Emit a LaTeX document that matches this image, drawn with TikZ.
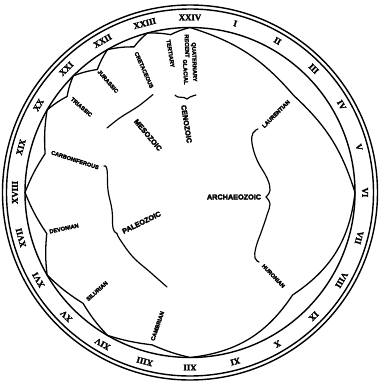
\documentclass[tikz,border=0pt]{standalone}
\usepackage{fontspec}
\newfontfamily\blobfont{Liberation Sans}[UprightFont=* Bold, FakeBold=4]
\newfontfamily\hourfont{Liberation Serif}[UprightFont=* Bold, FakeBold=2]

\begin{document}
\begin{tikzpicture}[x=0.03cm, y=0.03cm,
    hour/.style={font=\fontsize{7.5}{7.5}\selectfont\hourfont, inner sep=0pt},
    period/.style={font=\fontsize{4.8}{4.8}\selectfont\blobfont, inner sep=0pt},
    era/.style={font=\fontsize{6.2}{6.2}\selectfont\blobfont, inner sep=0pt},
    rim/.style={line width=1.2pt},
    bound/.style={line width=1.1pt, line join=round},
    grp/.style={line width=1pt, line cap=round}
]
\useasboundingbox (-190,-191.5) rectangle (189,192.5);

% Cadran
\draw[rim] (0,0) circle (187.5);
\draw[rim] (0,0) circle (183.5);
\draw[rim] (0,0) circle (165);

% Heures
\foreach \h in {1,...,24}
  \node[hour, rotate={-15*\h}] (h\h) at ({90-15*\h}:175)
    {\uppercase\expandafter{\romannumeral\h}};

% Limites des periodes
\draw[bound] (90:165) to[bend left=16] (43:142) to[bend left=15] (0:165)
  to[bend left=25] (-45:145) to[bend left=25] (-90:165)
  to[bend left=5] (-104:157) to[bend left=5] (-120:165)
  to[bend left=6] (-134:154) to[bend left=6] (-150:165)
  to[bend left=6] (-164:149) to[bend left=6] (-180:165)
  to[bend left=6] (-195:150) to[bend left=6] (-210:165)
  to[bend left=6] (142:156) to[bend left=6] (135:165)
  to[bend left=6] (127:154) to[bend left=6] (120:165)
  to[bend left=6] (111:156) to[bend left=6] (105:165)
  to[bend left=6] (97:159) to[bend left=6] (90:165);

% Periodes
\node[period, rotate=45] (laurent) at (86,78.5) {LAURENTIAN};
\node[period, rotate=-46] (huron) at (83.5,-83.5) {HURONIAN};
\node[period, rotate=71] (cambr) at (-32.5,-133.5) {CAMBRIAN};
\node[period, rotate=42] (silur) at (-93,-98.5) {SILURIAN};
\node[period, rotate=12] (devon) at (-126,-36) {DEVONIAN};
\node[period, rotate=-18] (carbon) at (-115,32.5) {CARBONIFEROUS};
\node[period, rotate=-41] (trias) at (-108.5,85.5) {TRIASSIC};
\node[period, rotate=-49] (jura) at (-82,111) {JURASSIC};
\node[period, rotate=-66] (creta) at (-46,122.5) {CRETACEOUS};
\node[period, rotate=-81] (tert) at (-19.5,139) {TERTIARY};
\node[period, rotate=-88] (recent) at (-3,146.5) {RECENT};
\node[period, rotate=-87] (glac) at (-4.5,120.5) {GLACIAL};
\node[period, rotate=-88] (quat) at (4,130.5) {QUATERNARY};

% Eres
\node[era] (archeo) at (44,-4.5) {ARCHAEOZOIC};
\node[era, rotate=26] (paleo) at (-48.5,-30) {PALEOZOIC};
\node[era, rotate=-50] (meso) at (-42,57.5) {MESOZOIC};
\node[era, rotate=-81] (ceno) at (-3.5,68.5) {CENOZOIC};

% Accolades
\draw[grp] plot[smooth, tension=0.7] coordinates {(68,63.5) (63,59.5) (62,49.5) (67,32.5) (77,14.5) (80,2.5) (76,-4.5)};
\draw[grp] plot[smooth, tension=0.7] coordinates {(76,-4.5) (80,-11.5) (77,-22.5) (72,-37.5) (66,-54.5) (65,-65.5) (69,-69.5)};
\draw[grp] plot[smooth, tension=0.7] coordinates {(-86,26.5) (-83,23) (-82,2.5) (-78,-17.5) (-77,-35.5) (-73,-41)};
\draw[grp] plot[smooth, tension=0.7] coordinates {(-73,-41) (-70,-47) (-57,-64.5) (-40,-79.5) (-23,-94.5)};
\draw[grp] plot[smooth, tension=0.7] coordinates {(-83,64.5) (-71,74) (-60,81) (-50,87.5) (-37,98)};
\draw[grp] plot[smooth, tension=0.7] coordinates {(-15,97.5) (-12,95.5) (-6,95) (-3,93.5) (0,95.5) (6,97.5)};

\end{tikzpicture}
\end{document}
